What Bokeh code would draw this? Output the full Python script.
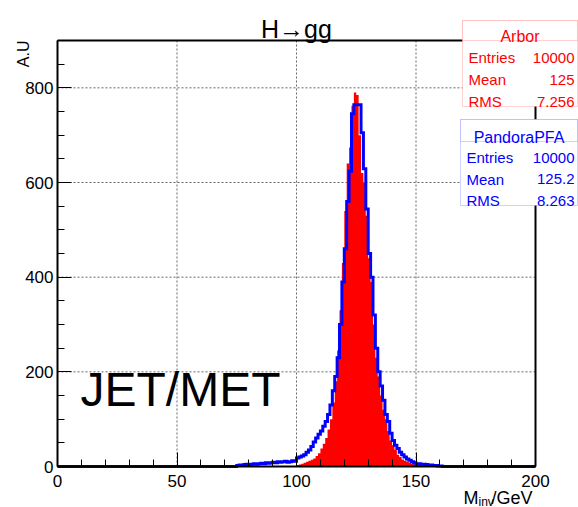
import numpy as np
from bokeh.plotting import figure
from bokeh.models import Label, BoxAnnotation, FixedTicker, Range1d
from bokeh.embed import file_html
from bokeh.resources import INLINE

# Histogram binning: 200 bins of 1 GeV between 0 and 200 GeV
bin_edges = np.arange(0, 201, 1)

# Arbor invariant-mass histogram, counts for consecutive bins starting at 100 GeV
arbor_first_bin = 100
arbor_counts = [3, 4, 6, 8, 10, 12, 14, 17, 22, 28,
                38, 48, 60, 78, 100, 135, 180, 245, 330, 430,
                540, 640, 674, 762, 790, 785, 700, 620, 600, 530,
                440, 390, 300, 230, 190, 150, 120, 100, 75, 55,
                45, 35, 25, 20, 15, 12, 10, 8, 6, 5,
                4, 3, 2, 2]

# PandoraPFA invariant-mass histogram, counts starting at 75 GeV
pandora_first_bin = 75
pandora_counts = [2, 3, 3, 4, 5, 4, 5, 6, 5, 6,
                  7, 6, 8, 7, 8, 9, 8, 10, 9, 10,
                  11, 9, 10, 12, 11,
                  18, 20, 22, 25, 30, 35, 42, 52, 60, 68,
                  75, 85, 95, 110, 130, 160, 190, 230, 300, 390,
                  460, 560, 624, 745, 764, 764, 764, 705, 629, 544,
                  450, 400, 320, 250, 200, 170, 140, 110, 95, 70,
                  55, 45, 38, 30, 25, 20, 16, 13, 10, 8,
                  6, 6, 5, 5, 4, 3, 3, 2, 2, 1, 1]

x_ticks = [0, 50, 100, 150, 200]
y_ticks = [0, 200, 400, 600, 800]
x_min, x_max = 0, 200
y_min, y_max = 0, 900

# Summary statistics printed in the stat boxes
arbor_stats = [("Entries", "10000"), ("Mean", "125"), ("RMS", "7.256")]
pandora_stats = [("Entries", "10000"), ("Mean", "125.2"), ("RMS", "8.263")]


def fill_bins(first, counts):
    h = np.zeros(len(bin_edges) - 1)
    h[first:first + len(counts)] = counts
    return h


def stairs(edges, h):
    return np.repeat(edges, 2)[1:-1], np.repeat(h, 2)


arbor_h = fill_bins(arbor_first_bin, arbor_counts)
pandora_h = fill_bins(pandora_first_bin, pandora_counts)

FONT = "Liberation Sans"
W, H = 578, 507
FL, FR, FT, FB = 57, 535, 40, 466   # pixel box of the drawn histogram frame

# The plotting area covers the whole canvas; the axes are pinned at x=0 / y=0
# so that titles and stat boxes can sit around the histogram frame.
sx_per = (FR - FL) / (x_max - x_min)
sy_per = (FB - FT) / (y_max - y_min)
x_range = Range1d(x_min - FL / sx_per, x_max + (W - FR) / sx_per)
y_range = Range1d(y_min - (H - FB) / sy_per, y_max + FT / sy_per)

p = figure(width=W, height=H, output_backend="svg", toolbar_location=None,
           x_range=x_range, y_range=y_range,
           min_border_left=0, min_border_right=0,
           min_border_top=0, min_border_bottom=0)
p.background_fill_color = "white"
p.border_fill_color = "white"
p.outline_line_color = None
p.grid.visible = False

# dotted grid at the major ticks
inner_x = [t for t in x_ticks if x_min < t < x_max]
inner_y = [t for t in y_ticks if y_min < t < y_max]
grid_kw = dict(line_color="#666666", line_dash="2 2", line_width=1)
p.segment(x0=inner_x, y0=[y_min] * len(inner_x), x1=inner_x, y1=[y_max] * len(inner_x), **grid_kw)
p.segment(x0=[x_min] * len(inner_y), y0=inner_y, x1=[x_max] * len(inner_y), y1=inner_y, **grid_kw)

# histograms: Arbor filled, PandoraPFA as an outline on top
ax, ay = stairs(bin_edges, arbor_h)
p.varea(x=ax, y1=0, y2=ay, fill_color="#ff0000")
bx, by = stairs(bin_edges, pandora_h)
p.line(bx, by, line_color="#0000ff", line_width=3, line_join="miter")

# top and right edges of the histogram frame
p.segment(x0=[x_min, x_max], y0=[y_max, y_min], x1=[x_max, x_max], y1=[y_max, y_max],
          line_color="black", line_width=2)

# axes with inward ticks, pinned to the frame edges
p.xaxis.fixed_location = y_min
p.yaxis.fixed_location = x_min
p.xaxis.bounds = (x_min, x_max)
p.yaxis.bounds = (y_min, y_max)
p.xaxis.ticker = FixedTicker(ticks=x_ticks, minor_ticks=list(range(x_min, x_max + 1, 10)))
p.yaxis.ticker = FixedTicker(ticks=y_ticks, minor_ticks=list(range(y_min, y_max + 1, 50)))
for axis in (p.xaxis, p.yaxis):
    axis.axis_line_color = "black"
    axis.axis_line_width = 2
    axis.major_tick_in = 14
    axis.major_tick_out = 0
    axis.minor_tick_in = 7
    axis.minor_tick_out = 0
    axis.major_tick_line_color = "black"
    axis.minor_tick_line_color = "black"
    axis.major_label_text_font = FONT
    axis.major_label_text_font_size = "17px"
    axis.major_label_text_color = "black"
p.xaxis.major_label_standoff = 8
p.yaxis.major_label_standoff = 4


def text(x, y, t, size, color="black", align="left", angle=0.0):
    p.add_layout(Label(x=x, y=H - y, x_units="screen", y_units="screen",
                       text=t, text_font=FONT, text_font_size=size,
                       text_color=color, text_align=align,
                       text_baseline="alphabetic", angle=angle))


text(296, 28, "H\u2192gg", "25px", align="center")
text(23, 40, "A.U", "16px", align="right", angle=np.pi / 2)
text(463, 497, "M", "18px")
text(478, 501, "inv", "12px")
text(491, 497, "/GeV", "18px")
text(80, 389, "JET/MET", "48px")


def stat_box(left, right, top, sep, bottom, title, rows, color, edge):
    for t, b in ((top, bottom), (top, sep)):
        p.add_layout(BoxAnnotation(left=left, right=right, top=H - t, bottom=H - b,
                                   left_units="screen", right_units="screen",
                                   top_units="screen", bottom_units="screen",
                                   fill_color="white", fill_alpha=1.0,
                                   line_color=edge, line_width=1))
    text((left + right) / 2, sep - 4, title, "16px", color, "center")
    row_h = (bottom - sep) / len(rows)
    for i, (name, val) in enumerate(rows):
        base = sep + row_h * (i + 1) - 5
        text(left + 6, base, name, "15px", color, "left")
        text(right - 3, base, val, "15px", color, "right")


stat_box(462, 577, 20, 40, 106, "Arbor", arbor_stats, "#ff0000", "#ff6666")
stat_box(460, 577, 119, 141, 205, "PandoraPFA", pandora_stats, "#0000ff", "#6666ff")

open("out.html", "w").write(file_html(p, INLINE))
